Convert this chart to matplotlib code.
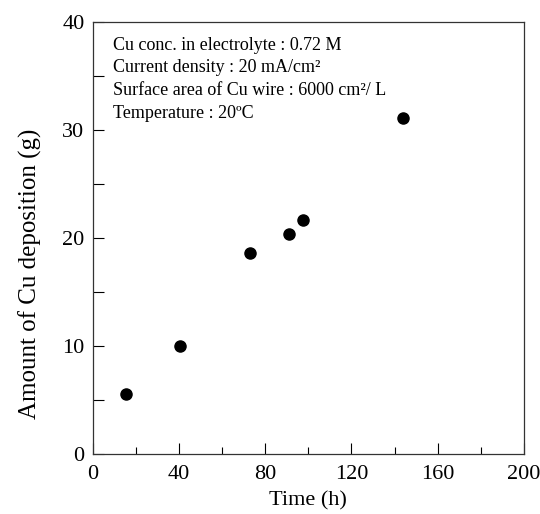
"""Amount of Cu deposited versus electrolysis time."""
import matplotlib
matplotlib.use('Agg')
import matplotlib.pyplot as plt
from matplotlib.ticker import MultipleLocator

# data
time_h = [15.3, 40.4, 72.9, 91.0, 97.4, 143.8]
cu_deposit_g = [5.5, 10.0, 18.65, 20.4, 21.7, 31.1]

conditions = ["Cu conc. in electrolyte : 0.72 M",
              "Current density : 20 mA/cm\u00b2",
              "Surface area of Cu wire : 6000 cm\u00b2/ L",
              "Temperature : 20\u00baC"]

plt.rcParams['font.family'] = ['Liberation Serif', 'DejaVu Serif']

fig = plt.figure(figsize=(5.40, 5.14), dpi=100)
ax = fig.add_axes([0.172, 0.117, 0.798, 0.840])

ax.plot(time_h, cu_deposit_g, 'o', color='black', markersize=8)

ax.set_xlim(0, 200)
ax.set_ylim(0, 40)
ax.xaxis.set_major_locator(MultipleLocator(40))
ax.xaxis.set_minor_locator(MultipleLocator(20))
ax.yaxis.set_major_locator(MultipleLocator(10))
ax.yaxis.set_minor_locator(MultipleLocator(5))
ax.tick_params(which='both', direction='in', labelsize=16, width=0.8)
ax.tick_params(which='major', length=8)
ax.tick_params(axis='x', which='major', pad=8)
ax.tick_params(axis='y', which='major', pad=6)
ax.tick_params(axis='x', which='minor', length=5)
ax.tick_params(axis='y', which='minor', length=8)
for s in ax.spines.values():
    s.set_linewidth(0.9)
    s.set_color('#333333')

ax.set_xlabel('Time (h)', fontsize=16, labelpad=5)
ax.set_ylabel('Amount of Cu deposition (g)', fontsize=18)
# label sits a little below the axes centre in the original
ax.yaxis.set_label_coords(-0.118, 0.417)

ax.text(0.046, 0.966, "\n".join(conditions), transform=ax.transAxes,
        va='top', ha='left', fontsize=13, linespacing=1.43)

fig.savefig('out.png', dpi=100)
